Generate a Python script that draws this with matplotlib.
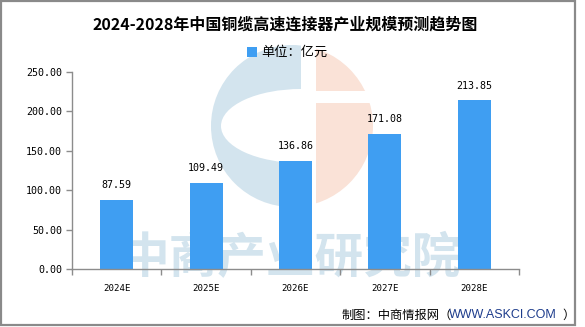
import matplotlib
matplotlib.use("Agg")
import matplotlib.pyplot as plt
from matplotlib.patches import Circle, Ellipse, Rectangle
import numpy as np

plt.rcParams['font.family'] = ['Noto Sans CJK SC', 'DejaVu Sans']

# data
years = ['2024E', '2025E', '2026E', '2027E', '2028E']
values = [87.59, 109.49, 136.86, 171.08, 213.85]
y_ticks = [0, 50, 100, 150, 200, 250]

title = '2024-2028年中国铜缆高速连接器产业规模预测趋势图'
unit_label = '单位：亿元'
bar_color = '#3f9ef2'
axis_color = '#8c8c8c'

W, H = 585, 327
fig = plt.figure(figsize=(W / 100, H / 100), dpi=100)

# background layer in pixel coordinates: logo, watermark, frame
bg = fig.add_axes([0, 0, 1, 1], zorder=0)
bg.set_xlim(0, W)
bg.set_ylim(H, 0)
bg.axis('off')

cx, cy, r = 292, 126, 81
blue = Circle((cx, cy), r, color='#d3e4ee', lw=0)
bg.add_patch(blue)
blue.set_clip_path(Rectangle((0, 0), 301, H, transform=bg.transData))
hole = Ellipse((301, cy), 160, 74, color='white', lw=0)
bg.add_patch(hole)
hole.set_clip_path(Rectangle((0, 0), 301, H, transform=bg.transData))
salmon = Circle((cx, cy), r, color='#fae2d7', lw=0)
bg.add_patch(salmon)
salmon.set_clip_path(Rectangle((316, 0), W, H, transform=bg.transData))
bg.add_patch(Rectangle((310, 91), 80, 12, color='white', lw=0))

bg.text(291, 259, '中商产业研究院', fontsize=35, fontweight='bold',
        color='#d3e4ee', ha='center', va='center')

# outer frame
bg.add_patch(Rectangle((1, 1), 574, 324, fill=False, ec='#8a8a8a', lw=1.6))

# main chart
ax = fig.add_axes([72 / W, 1 - 269 / H, (519 - 72) / W, (269 - 71.7) / H], zorder=1)
ax.patch.set_alpha(0)
x = np.arange(len(years))
bars = ax.bar(x, values, width=0.37, color=bar_color, zorder=2)

for xi, v in zip(x, values):
    ax.annotate(f'{v:.2f}', (xi, v), xytext=(0, 7), textcoords='offset points',
                ha='center', va='bottom', fontsize=7.2, family='DejaVu Sans Mono')

ax.set_xlim(-0.5, len(years) - 0.5)
ax.set_ylim(0, 250)
ax.set_yticks(y_ticks)
ax.set_yticklabels([f'{t:.2f}' for t in y_ticks], family='DejaVu Sans Mono', fontsize=7.2)
ax.set_xticks(x)
ax.set_xticklabels(years, family='DejaVu Sans Mono', fontsize=6.6)
ax.set_xticks(np.arange(len(years) + 1) - 0.5, minor=True)
ax.tick_params(axis='x', which='major', length=0, pad=11)
ax.tick_params(axis='x', which='minor', length=4, color=axis_color, width=1)
ax.tick_params(axis='y', length=4, color=axis_color, width=1, pad=3)

for side in ['top', 'right']:
    ax.spines[side].set_visible(False)
for side in ['left', 'bottom']:
    ax.spines[side].set_color(axis_color)
    ax.spines[side].set_linewidth(1)

# title and legend
fig.text(285 / W, 1 - 25 / H, title, ha='center', va='center',
         fontsize=11.5, fontweight='bold')
bg.add_patch(Rectangle((247, 47), 10, 10, color=bar_color, lw=0))
bg.text(261, 52, unit_label, fontsize=9.5, va='center', ha='left')

# source line
bg.text(342, 315, '制图：中商情报网（', fontsize=8.8, va='center', ha='left')
bg.text(449, 315, 'WWW.ASKCI.COM', fontsize=9.0, va='center', ha='left',
        color='#1d3c8c', family='Liberation Sans')
bg.text(562, 315, '）', fontsize=8.8, va='center', ha='left')

fig.savefig('out.png', dpi=100)
